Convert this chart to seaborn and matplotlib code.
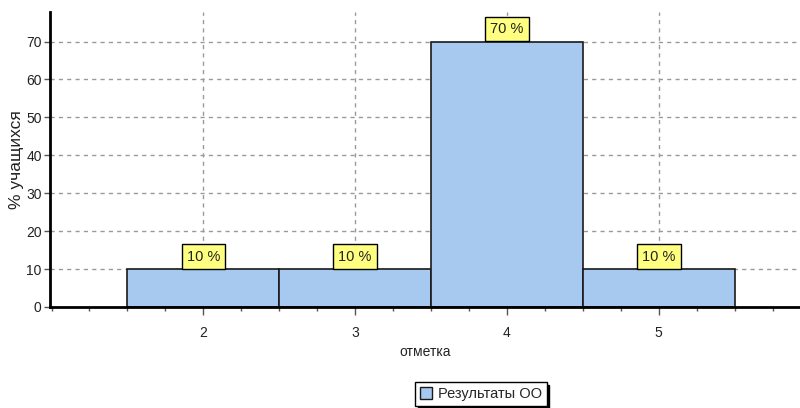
import seaborn as sns
import matplotlib.pyplot as plt
import pandas as pd
from matplotlib.patches import Patch
from matplotlib.ticker import MultipleLocator

# data
marks = [2, 3, 4, 5]
percents = [10, 10, 70, 10]
bar_labels = ['10 %', '10 %', '70 %', '10 %']
series_name = 'Результаты ОО'

df = pd.DataFrame({'mark': marks, 'pct': percents})

sns.set_style('white')
plt.rcParams['font.family'] = ['Liberation Sans', 'DejaVu Sans']

fig = plt.figure(figsize=(8, 4.08), dpi=100)
ax = fig.add_axes([50 / 800, 1 - 307 / 408, 750 / 800, (307 - 12) / 408])

bar_color = '#A7C9EF'
sns.barplot(data=df, x='mark', y='pct', native_scale=True, width=1,
            color=bar_color, saturation=1, edgecolor='#1a1a1a', linewidth=1.2,
            zorder=2, ax=ax)

ax.set_xlim(0.99, 5.93)
ax.set_ylim(0, 77.8)
ax.xaxis.set_minor_locator(MultipleLocator(0.25))
ax.yaxis.set_major_locator(MultipleLocator(10))
ax.set_xticks(marks)
ax.set_xticklabels([str(m) for m in marks])

ax.grid(True, which='major', axis='both', color='#9a9a9a', linestyle=(0, (3, 3)),
        linewidth=1)
ax.set_axisbelow(True)

for s in ['top', 'right']:
    ax.spines[s].set_visible(False)
ax.spines['left'].set_color('black')
ax.spines['left'].set_linewidth(2)
ax.spines['bottom'].set_color('black')
ax.spines['bottom'].set_linewidth(2)
ax.spines['bottom'].set_linestyle((0, (4, 1)))

ax.tick_params(axis='x', which='major', length=6, width=1, color='#555555',
               labelsize=10, pad=8, bottom=True, labelcolor='#222222')
ax.tick_params(axis='x', which='minor', length=3, width=1, color='#555555', bottom=True)
ax.tick_params(axis='y', which='major', length=4, width=1, color='#555555',
               labelsize=10, pad=2, left=True, labelcolor='#222222')

ax.set_xlabel('отметка', fontsize=10, labelpad=3, color='#222222')
ax.set_ylabel('% учащихся', fontsize=12.5, color='#222222')
ax.yaxis.set_label_coords(-0.034, 0.5)

for m, p, lab in zip(marks, percents, bar_labels):
    ax.annotate(lab, xy=(m, p), xytext=(0, 4), textcoords='offset points',
                ha='center', va='bottom', fontsize=10.5, zorder=5, color='#222222',
                bbox=dict(boxstyle='square,pad=0.35', fc='#FFFF80', ec='black', lw=1))

handles = [Patch(facecolor=bar_color, edgecolor='#1a1a1a', label=series_name)]
leg = fig.legend(handles=handles, loc='upper left', bbox_to_anchor=(415 / 800, 1 - 382 / 408),
                 fontsize=10.5, frameon=True, fancybox=False,
                 shadow={'color': 'black', 'alpha': 1},
                 handlelength=0.8, handleheight=0.8, handletextpad=0.4,
                 borderpad=0.35, borderaxespad=0)
leg.get_frame().set_edgecolor('black')
leg.get_frame().set_linewidth(1)

fig.savefig('out.png', dpi=100)
